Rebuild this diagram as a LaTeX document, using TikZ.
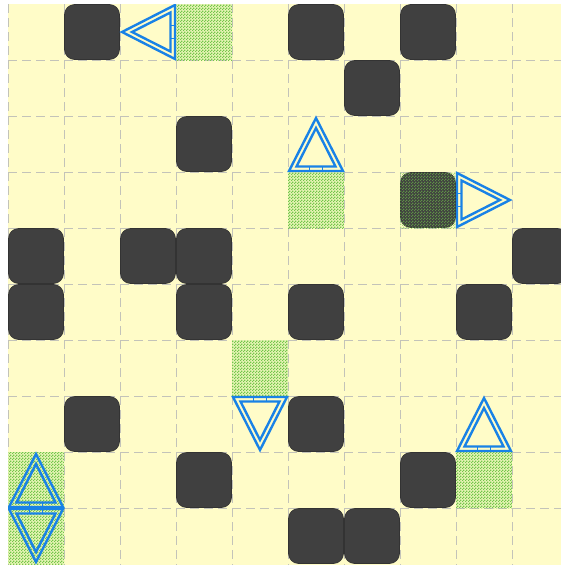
\documentclass[tikz,border=0pt]{standalone}
\usetikzlibrary{patterns}
\definecolor{cream}{RGB}{255,252,200}
\definecolor{block}{RGB}{64,64,64}
\definecolor{gridc}{RGB}{195,195,185}
\definecolor{goalg}{RGB}{115,198,75}
\definecolor{goalbg}{RGB}{230,244,180}
\definecolor{arrowb}{RGB}{25,130,230}
\pgfdeclarepatternformonly{goalchecks}{\pgfpointorigin}{\pgfqpoint{3pt}{3pt}}{\pgfqpoint{3pt}{3pt}}{%
  \pgfpathrectangle{\pgfpointorigin}{\pgfqpoint{1.5pt}{1.5pt}}%
  \pgfpathrectangle{\pgfqpoint{1.5pt}{1.5pt}}{\pgfqpoint{1.5pt}{1.5pt}}%
  \pgfusepath{fill}}
\tikzset{
  blockcell/.style={fill=block, draw=block!80!black, line width=0.6pt, rounded corners=10pt},
  goalbase/.style={fill=goalbg},
  goalcell/.style={pattern=goalchecks, pattern color=goalg},
  gridline/.style={gridc, dash pattern=on 9pt off 5pt, line width=0.9pt},
  tristroke/.style={draw=arrowb, line width=2.4pt, line join=miter},
  tickstroke/.style={draw=arrowb, line width=1.8pt}
}
\newcommand{\blockat}[2]{% col, row
  \path[blockcell] ({8+56*#1+0.5},{4+56*#2+0.5}) rectangle ({8+56*#1+55.5},{4+56*#2+55.5});}
\newcommand{\goalat}[2]{%
  \path[goalbase] ({8+56*#1},{4+56*#2}) rectangle ({8+56*#1+56},{4+56*#2+56});
  \path[goalcell] ({8+56*#1},{4+56*#2}) rectangle ({8+56*#1+56},{4+56*#2+56});}
\newcommand{\goalover}[2]{%
  \path[goalcell, opacity=0.6] ({8+56*#1},{4+56*#2}) rectangle ({8+56*#1+56},{4+56*#2+56});}
\newcommand{\triat}[3]{% col, row, rotation
  \begin{scope}[shift={({36+56*#1},{32+56*#2})}, rotate=#3]
    \draw[tristroke] (-27,27) -- (27,27) -- (0,-26) -- cycle;
    \draw[tristroke] (-19.5,22.5) -- (19.5,22.5) -- (0,-16) -- cycle;
    \draw[tickstroke] (-6.5,27) -- (-6.5,22.5);
    \draw[tickstroke] (6.5,27) -- (6.5,22.5);
  \end{scope}}
\begin{document}
\begin{tikzpicture}[x=1pt,y=-1pt]
\useasboundingbox (0,0) rectangle (561,565);
\fill[cream] (8,4) rectangle (561,565);
\begin{scope}
\clip (8,4) rectangle (561,565);
\foreach \i in {0,...,9} \draw[gridline] ({8+56*\i},4) -- ({8+56*\i},565);
\foreach \j in {1,...,9} \draw[gridline] (8,{4+56*\j}) -- (561,{4+56*\j});
% goal cells
\goalat{3}{0}
\goalat{5}{3}
\goalat{4}{6}
\goalat{0}{8}
\goalat{8}{8}
\goalat{0}{9}
% blocks
\blockat{1}{0}
\blockat{5}{0}
\blockat{7}{0}
\blockat{6}{1}
\blockat{3}{2}
\blockat{7}{3}
\blockat{0}{4}
\blockat{2}{4}
\blockat{3}{4}
\blockat{9}{4}
\blockat{0}{5}
\blockat{3}{5}
\blockat{5}{5}
\blockat{8}{5}
\blockat{1}{7}
\blockat{5}{7}
\blockat{3}{8}
\blockat{7}{8}
\blockat{5}{9}
\blockat{6}{9}
% goal over block
\goalover{7}{3}
% arrows
\triat{2}{0}{90}
\triat{5}{2}{0}
\triat{8}{3}{-90}
\triat{4}{7}{180}
\triat{8}{7}{0}
\triat{0}{8}{0}
\triat{0}{9}{180}
\end{scope}
\end{tikzpicture}
\end{document}
